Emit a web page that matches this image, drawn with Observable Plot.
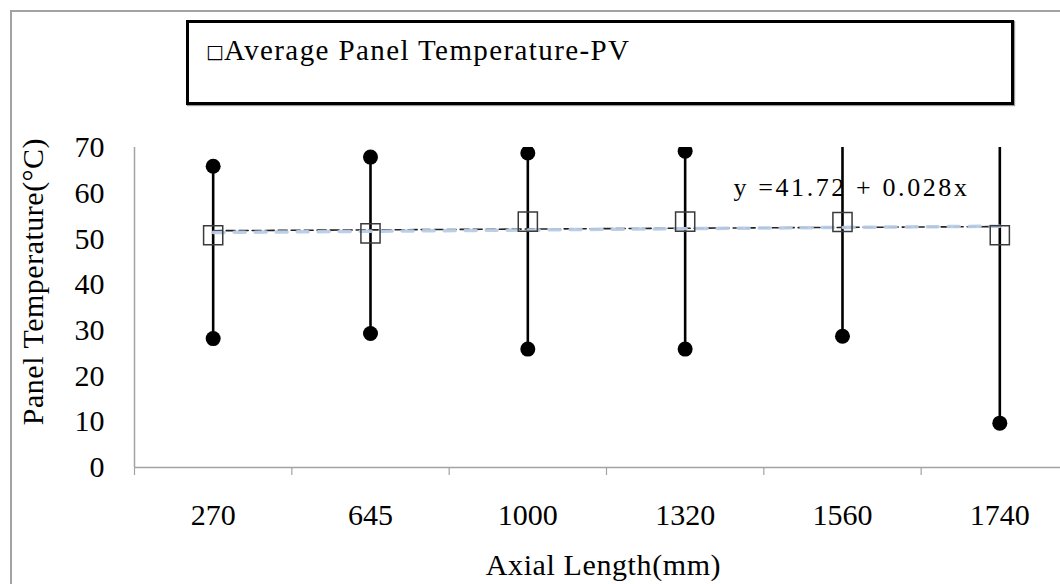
<!DOCTYPE html>
<html>
<head>
<meta charset="utf-8">
<script src="https://cdn.jsdelivr.net/npm/d3@7"></script>
<script src="https://cdn.jsdelivr.net/npm/@observablehq/plot@0.6"></script>
<style>
  html, body { margin: 0; padding: 0; background: #fff; overflow: hidden; }
  #wrap { position: relative; width: 1060px; height: 584px; overflow: hidden; font-family: "Liberation Serif", "Times New Roman", serif; }
  #chart { position: absolute; left: 0; top: 0; }
  #border { position: absolute; left: 10px; top: 10px; width: 1200px; height: 800px; border: 2px solid #a3a3a3; box-sizing: border-box; pointer-events: none; }
  #legend { position: absolute; left: 186px; top: 20px; width: 828px; height: 85px; border: 3px solid #000; box-sizing: border-box; background: #fff; box-shadow: 1px 1px 1px #999; }
  #legend .txt { position: absolute; left: 17px; top: 13px; font-size: 29px; line-height: 1; letter-spacing: 1.4px; white-space: nowrap; color: #000; }
  #legend .sym { font-family: "DejaVu Sans", sans-serif; font-size: 19px; letter-spacing: 0; vertical-align: 2px; }
</style>
</head>
<body>
<div id="wrap">
  <div id="chart"></div>
  <div id="border"></div>
  <div id="legend"><span class="txt"><span class="sym">□</span>Average Panel Temperature-PV</span></div>
</div>
<script>
// ---- data ----
const categories = ["270", "645", "1000", "1320", "1560", "1740"];
const avgTemp = [50.8, 51.2, 53.8, 53.8, 53.7, 50.8];
const maxTemp = [65.9, 67.9, 68.8, 69.2, 78.0, 90.0];
const minTemp = [28.2, 29.3, 25.9, 25.9, 28.7, 9.7];
const yTicks = [0, 10, 20, 30, 40, 50, 60, 70];
const trendBlack = [51.8, 52.7];   // at first and last category
const trendBlue = [51.4, 52.8];
const equationLabel = "y =41.72 + 0.028x";
const xTitle = "Axial Length(mm)";
const yTitle = "Panel Temperature(\u00B0C)";

// ---- derived tables ----
const rows = categories.map((c, i) => ({cat: c, pos: i + 0.5, avg: avgTemp[i], max: maxTemp[i], min: minTemp[i]}));
const lastPos = categories.length - 0.5;
const blackLine = [{pos: 0.5, y: trendBlack[0]}, {pos: lastPos, y: trendBlack[1]}];
const blueLine = [{pos: 0.5, y: trendBlue[0]}, {pos: lastPos, y: trendBlue[1]}];
const boundaries = d3.range(categories.length + 1);

const gray = "#a3a3a3";

const plot = Plot.plot({
  width: 1060,
  height: 584,
  marginLeft: 134,
  marginRight: 0,
  marginTop: 147,
  marginBottom: 117,
  style: {fontFamily: "'Liberation Serif', 'Times New Roman', serif", fontSize: "30px", color: "#000", background: "transparent", overflow: "visible"},
  x: {type: "linear", domain: [0, categories.length], range: [134, 134 + 157.33 * categories.length]},
  y: {domain: [0, 70], range: [467, 147]},
  marks: [
    // axis lines
    Plot.ruleY([0], {stroke: gray, strokeWidth: 1.5}),
    Plot.ruleX([0], {y1: 0, y2: 70, stroke: gray, strokeWidth: 1.5}),
    // category boundary ticks
    Plot.axisX({ticks: boundaries, tickSize: 8, tickFormat: () => "", stroke: gray, strokeWidth: 1.2, label: null}),
    // category labels
    Plot.axisX({ticks: rows.map(d => d.pos), tickSize: 0, tickPadding: 36, tickFormat: v => categories[Math.floor(v)], label: null, fontSize: 30}),
    // y tick labels
    Plot.axisY({ticks: yTicks, tickSize: 0, tickPadding: 30, label: null, fontSize: 30}),
    // error bars
    Plot.ruleX(rows, {x: "pos", y1: "min", y2: "max", stroke: "#000", strokeWidth: 2.6, clip: true}),
    Plot.dot(rows, {x: "pos", y: "max", r: 7.5, fill: "#000", stroke: "none", clip: true}),
    Plot.dot(rows, {x: "pos", y: "min", r: 7.5, fill: "#000", stroke: "none", clip: true}),
    // trend lines
    Plot.line(blackLine, {x: "pos", y: "y", stroke: "#222", strokeWidth: 1.6, strokeDasharray: "9,4"}),
    Plot.line(blueLine, {x: "pos", y: "y", stroke: "#b8cce6", strokeWidth: 3.5, strokeDasharray: "11,10", strokeOpacity: 0.95}),
    // averages
    Plot.dot(rows, {x: "pos", y: "avg", symbol: "square", r: 10.8, fill: "none", stroke: "#3a3a3a", strokeWidth: 1.5}),
    // equation
    Plot.text([equationLabel], {frameAnchor: "top-left", dx: 599, dy: 40, textAnchor: "start", lineAnchor: "middle", fontSize: 26, fill: "#000"}),
    // axis titles
    Plot.text([xTitle], {frameAnchor: "bottom", dx: 6, dy: 98, textAnchor: "middle", lineAnchor: "middle", fontSize: 30, fill: "#000"}),
    Plot.text([yTitle], {frameAnchor: "left", dx: -101, dy: -26, rotate: -90, textAnchor: "middle", lineAnchor: "middle", fontSize: 30, fill: "#000"})
  ]
});

d3.select(plot).selectAll("text").each(function() {
  const t = this.textContent;
  if (t === equationLabel) this.style.letterSpacing = "2.6px";
  else if (t === xTitle) this.style.letterSpacing = "0.6px";
  else if (t === yTitle) this.style.letterSpacing = "0.5px";
});

document.getElementById("chart").appendChild(plot);
</script>
</body>
</html>
